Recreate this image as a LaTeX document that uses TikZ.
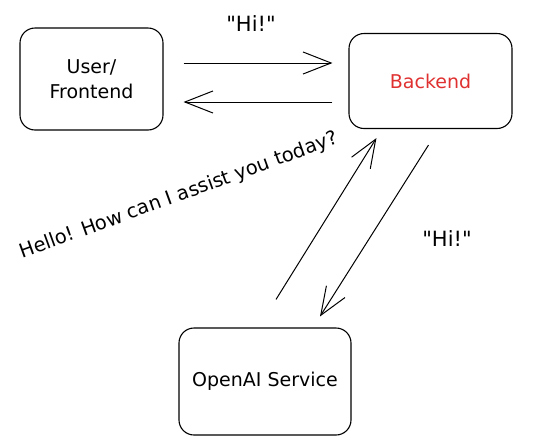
\documentclass[tikz,border=0pt]{standalone}
\usepackage{fontspec}
\setmainfont{DejaVu Sans}
\usetikzlibrary{arrows.meta}
\definecolor{sketchred}{HTML}{E03131}
\tikzset{
  box/.style={draw, rounded corners=15pt, line width=1.1pt, align=center, font=\fontsize{19}{25}\selectfont},
  msg/.style={line width=1pt, -{Straight Barb[length=28pt,width=22pt,line width=1pt]}},
  said/.style={font=\fontsize{21}{24}\selectfont}
}
\begin{document}
\begin{tikzpicture}[x=1pt,y=-1pt]

 \useasboundingbox (0,0) rectangle (547,445);

	%boxes
 \node[box, minimum width=143pt, minimum height=102pt] (user) at (91.5,79) {User/\\Frontend};
 \node[box, minimum width=163pt, minimum height=95pt, text=sketchred] (back) at (430.5,81) {Backend};
 \node[box, minimum width=172pt, minimum height=107pt] (oai) at (265,381.5) {OpenAI Service};

	%arrows
 \draw[msg, shorten <=20pt, shorten >=16pt] ([yshift=16pt]user.east) -- ([yshift=18pt]back.west);
 \draw[msg, shorten <=16pt, shorten >=20pt] ([yshift=-21pt]back.west) -- ([yshift=-23pt]user.east);
 \draw[msg] ([xshift=11pt,yshift=28pt]oai.north) -- ([xshift=28pt,yshift=-9pt]back.south west);
 \draw[msg] ([xshift=-2pt,yshift=-16pt]back.south) -- ([xshift=55pt,yshift=11pt]oai.north);

	%labels
 \node[said] (hi1) at (251,24) {\textquotedbl Hi!\textquotedbl};
 \node[said] (hi2) at (447,239) {\textquotedbl Hi!\textquotedbl};
 \node[font=\fontsize{19.5}{22}\selectfont, rotate=20] (hello) at (179,196) {Hello! How can I assist you today?};

\end{tikzpicture}
\end{document}
